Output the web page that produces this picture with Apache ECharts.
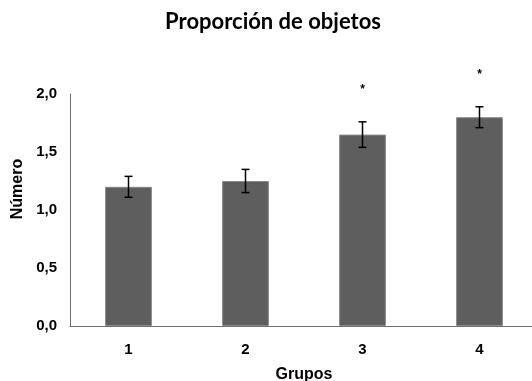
<!DOCTYPE html>
<html>
<head>
<meta charset="utf-8">
<script src="https://cdn.jsdelivr.net/npm/echarts@6/dist/echarts.min.js"></script>
<style>
  html, body { margin: 0; padding: 0; background: #fff; }
  #chart { width: 532px; height: 381px; }
</style>
</head>
<body>
<div id="chart"></div>
<script>
// Groups, mean values and their error (±)
const categories = ['1', '2', '3', '4'];
const means = [1.20, 1.25, 1.65, 1.80];
const errors = [0.09, 0.10, 0.11, 0.09];
// Significance marks drawn above the error bars
const marks = ['', '', '*', '*'];
// Value-axis ticks
const yMin = 0, yMax = 2, yStep = 0.5;

const fmt = v => v.toFixed(1).replace('.', ',');
const labelFont = 'Liberation Sans, Arial, sans-serif';

const chart = echarts.init(document.getElementById('chart'));

const errData = categories.map((c, i) => [i, means[i] - errors[i], means[i] + errors[i], marks[i]]);

chart.setOption({
  animation: false,
  backgroundColor: '#ffffff',
  title: {
    text: 'Proporción de objetos',
    left: 273,
    textAlign: 'center',
    top: 11,
    padding: 0,
    textStyle: { fontFamily: 'Lato, sans-serif', fontWeight: 'bold', fontSize: 22, color: '#000' }
  },
  graphic: [{
    type: 'text',
    x: 18, y: 189,
    rotation: Math.PI / 2,
    style: {
      text: 'Número',
      x: 0, y: 0,
      align: 'center', verticalAlign: 'middle',
      font: 'bold 16px ' + labelFont,
      fill: '#000'
    }
  }],
  grid: { left: 70, right: -6, top: 94, bottom: 55, containLabel: false, outerBoundsMode: 'none' },
  xAxis: {
    type: 'category',
    data: categories,
    name: 'Grupos',
    nameLocation: 'middle',
    nameGap: 41,
    nameTextStyle: { fontFamily: labelFont, fontWeight: 'bold', fontSize: 16, color: '#000' },
    axisLine: { lineStyle: { color: '#6e6e6e', width: 1 } },
    axisTick: { show: false },
    axisLabel: { margin: 16, fontFamily: labelFont, fontWeight: 'bold', fontSize: 15, color: '#000' }
  },
  yAxis: {
    type: 'value',
    min: yMin, max: yMax, interval: yStep,
    axisLine: { show: true, lineStyle: { color: '#6e6e6e', width: 1 } },
    axisTick: { show: false },
    splitLine: { show: false },
    axisLabel: { margin: 13, formatter: fmt, fontFamily: labelFont, fontWeight: 'bold', fontSize: 15, color: '#000' }
  },
  series: [
    {
      type: 'bar',
      data: means,
      barWidth: '40%',
      itemStyle: { color: '#5e5e5e', borderColor: '#8a8a8a', borderWidth: 1 }
    },
    {
      type: 'custom',
      data: errData,
      clip: false,
      z: 10,
      renderItem: (params, api) => {
        const x = api.value(0);
        const lo = api.coord([x, api.value(1)]);
        const hi = api.coord([x, api.value(2)]);
        const cap = 4;
        const style = { stroke: '#000', lineWidth: 1.5 };
        const children = [
          { type: 'line', shape: { x1: hi[0], y1: hi[1], x2: lo[0], y2: lo[1] }, style },
          { type: 'line', shape: { x1: hi[0] - cap, y1: hi[1], x2: hi[0] + cap, y2: hi[1] }, style },
          { type: 'line', shape: { x1: lo[0] - cap, y1: lo[1], x2: lo[0] + cap, y2: lo[1] }, style }
        ];
        const mark = api.value(3);
        if (mark) {
          children.push({
            type: 'text',
            style: {
              text: mark, x: hi[0], y: hi[1] - 32,
              align: 'center', verticalAlign: 'middle',
              font: 'bold 12px ' + labelFont, fill: '#000'
            }
          });
        }
        return { type: 'group', children };
      }
    }
  ]
});
</script>
</body>
</html>
